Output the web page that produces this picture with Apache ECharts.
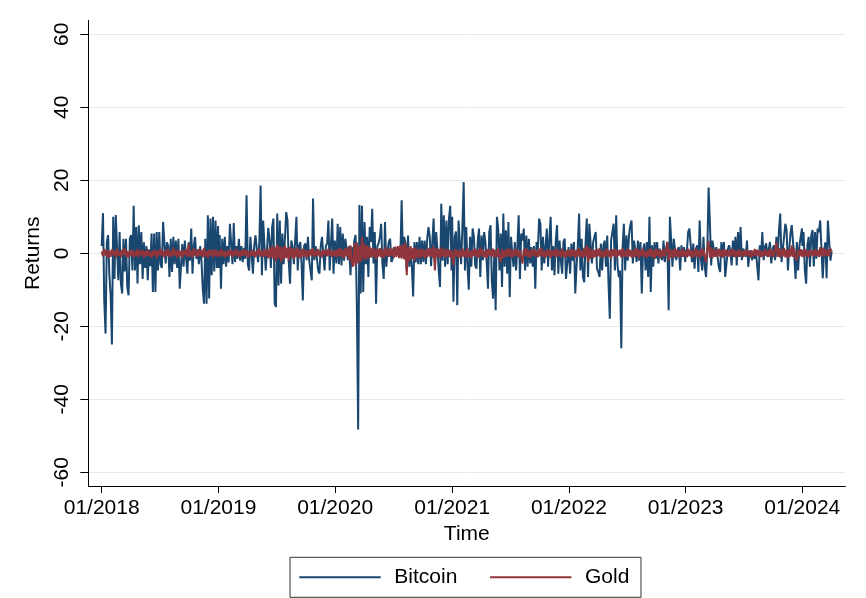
<!DOCTYPE html>
<html>
<head>
<meta charset="utf-8">
<title>Bitcoin and Gold returns</title>
<script src="https://cdn.jsdelivr.net/npm/echarts@6/dist/echarts.min.js"></script>
<style>
  html, body { margin: 0; padding: 0; background: #fff; }
  #chart { width: 866px; height: 598px; }
</style>
</head>
<body>
<div id="chart"></div>
<script>
// daily returns (%), one value every 4 days from 1 Jan of each year
const stepDays = 4

const btc2018 = [
  2, 11, -13, -22, 3, 5, -6, -11.5, -25, 10,
  -7, 10.5, 10, -7.4, 5.8, -8.3, -11, 4, -5, 4,
  -9.2, -11.5, 4, 5, -4.7, 13, -4.7, 7.2, -8.3, 7.7,
  -3, 5.8, -7, 3, -4, 2, -7.4, 1, -3.5, 5.4,
  -10.6, 5.4, -10.6, 5.8, -4.7, 5.8, -3, -4, 8.6, 8.3,
  -2.8, 3, 2, -6.5, 4, -5.1, 4.5, -3, 3.5, -4,
  4, -9.7, -3.7, 2.5, -3.7, 3.5, -1.5, -5.6, 3, -2,
  6.8, -5.6, 2.2, 4.5, -1.5, 1, -3, 2, -2, -9.7,
  -13.8, 4, -13.8, 10.4, -12.4, 9.5, -6, 10, -5, 9,
  -4, 7.5
]
const btc2019 = [
  -4, 5, -9.7, 4, -3, 4.5, -3.7, 2, -2.5, 8.1,
  8, -3, 8.3, -2.4, 2, -1.5, 4, -2, 2, -2.4,
  1.5, -1.5, 15.9, -3, -4.7, 4.5, 4.5, -5.6, 2, 4.9,
  5, -2.4, 3, 18.6, -6, 9, 9, -4.7, -5.1, 7,
  3.5, -4, 7.2, 9.5, -13.8, -14.7, 10.9, -8.8, 9, -8.3,
  5.4, -3, 4, 11.3, 9, -2.4, -8.3, 3.5, 1.7, -3,
  -2.8, 10, -4.7, 2, 3.1, -2.8, -12.9, 2, 2.7, -1.9,
  4.5, -2, -4.7, -7.4, 15, -1.9, 2, 1.7, -4.7, -5.6,
  2, 4.5, 4.5, -4.7, 2, 2.7, 9, -4.7, 2.7, 9.5,
  -5.6, 3.5
]
const btc2020 = [
  4, -2.8, 8.1, -3, 7.2, -3.3, 5.4, -2, 4, 3.5,
  -1.9, 2, -6, 1.7, -2.4, 3.5, 5, -14.5, -48.3, 13.2,
  -11, 13, -10.6, 8.6, -3, 4.5, -6.5, 7.2, 3.1, 12.2,
  -2.8, 5.8, -13.8, 2, 2.7, 4.5, 8.1, -3, -7, 8.6,
  -3.7, 0.8, 3.1, 4, -2.4, -1.5, 1.7, 0, -0.5, 0.8,
  1.3, -1, 14.5, -1, 4.5, 2.7, -4.7, 4.9, -3.7, 1,
  -3.7, -11.8, 3.1, -2.5, 3.1, -3, 4.5, -3, 3.5, -2.4,
  3.5, -3, 4, 7.2, 4.5, -3.5, 3, 9.5, -2.8, 5.8,
  1, -4.7, -9.2, 13.6, -2, 10.4, -3.7, 9, -3, 9.5,
  13, -4.7
]
const btc2021 = [
  10, -13.3, 4.5, 6, -14.2, 9, 9, -3, 7.2, 19.5,
  -4.7, 7.2, -3.3, -10, 4.5, -3.7, 6.8, 4.5, -3.3, -4.2,
  3.5, 6.8, -6.5, 4.9, -1.9, 5.8, 3.1, -2.4, -9.7, 5.8,
  7.7, -7.4, -12.4, 1, -15.6, 10, 6.8, -4.7, 5.4, -9.2,
  10.9, -3.7, 6.3, -5.6, 8.6, -12, 4.5, 0, -3.7, 3.1,
  -4.7, 2, 10.4, -7, 5.4, 3.5, 6.8, -4.7, 4.9, -3.7,
  4, -2.8, 1.7, -3.7, 2, -9.7, 3.1, 1, 9.5, 8.1,
  -4.7, 4.5, -2.8, 2, 6.8, -3.7, 4, 10, -4.7, 2,
  -6, 3.5, 7.7, -5.6, 3.5, -2, -5.6, 3.1, 4, -7,
  -6.5, 1.7
]
const btc2022 = [
  2, -5.6, 2.7, -2, 3.1, -11, -3.7, 2.2, 10.9, -4.7,
  4, -6.5, -7.9, 2.7, 9.5, -6.5, 8.1, 7.7, -2.8, 3.1,
  4.5, 5.8, -4.2, -5.1, -6.5, 2.7, -4.7, 2.2, 3.5, -3.7,
  4.9, -8.3, -17.9, 3.5, 5.8, 8.1, -4.7, 10.4, -3, -6.5,
  -4.7, -26, 1.7, 8.1, -4.7, 4.9, -2, 4.9, 7.7, 9,
  -2.8, 3.5, 3.5, -2.4, 3.5, -2, 3.1, -11, 0.8, 2.7,
  -4.7, 3.1, -6.5, 10, -10.6, 2.2, -3.7, 3.1, -1.5, 3.1,
  -2.8, 1.3, -1, -1.9, 3.5, -2.4, 1, 3.1, -15.6, 10,
  3.5, -3.7, 4, 4.5, -1.9, 1, 1.7, -4.7, 2.2, -1,
  1.7, -2.4
]
const btc2023 = [
  1, 0.4, 5.8, 6.8, 7.2, -2.4, 2.7, -4.2, 1, 2.2,
  -5.1, 9, -1.5, -4.7, 4.5, -3.7, -6.5, 1, 18, 8.6,
  -3.3, 3.5, 3.5, -1, 1.7, -1, -3.7, -5.1, 3.1, -1,
  3.1, -6.5, -6, 1, 2.2, 0.8, -3.3, 3.5, -1, 4.5,
  -3.3, 5.8, -1, 7.2, -1.9, 1.3, 0.5, -1, 3.5, -3.7,
  -0.1, 0.8, -1.9, 0.4, -1.5, 0.5, 0.8, -7.4, 2.2, -1,
  5.8, -1.9, 1.7, 2.7, -1, -1.5, 3.1, -2.8, 1, 2.2,
  -1.9, 4.5, -1, 6.3, 10.9, -2.4, 1, 4.5, 8.1, 6.3,
  -4.7, 1, 5.4, 7.7, 3.1, -1, -7, 3.1, -4.7, 2,
  4.5, 6.8
]
const btc2024 = [
  2, 5.8, -4.7, -8.3, 2.2, 4.5, -3.7, 4.9, 6.4, -3.6,
  5.8, -1.5, 6.8, 5.8, 9, 8.6, -6.8, 0.5, 3, -6.8,
  9, 8.6, -2, 0.5
]

const gold2018 = [
  0.5, -0.8, 1.2, -0.6, 0.9, -1.3, 0.7, -1.0, 1.1, -0.5,
  0.8, -1.2, 1.3, -0.7, 0.6, -1.1, 0.9, -0.4, 1.5, -0.9,
  0.6, -1.2, 0.8, -0.6, 1.0, -1.1, 0.5, -0.8, 1.2, -1.0,
  0.7, -0.5, 0.9, -1.3, 0.6, -0.7, 1.1, -0.9, 0.4, -1.2,
  0.8, -0.6, 1.0, -1.4, 0.7, -0.5, 1.3, -0.8, 0.6, -1.1,
  0.9, -0.7, 1.2, -1.0, 0.5, -0.9, 1.7, -0.6, 0.8, -1.2,
  1.0, -0.8, 0.6, -1.3, 0.9, -0.5, 1.1, -1.0, 2.6, -0.9,
  0.7, -1.2, 1.5, -0.6, 0.8, -1.0, 1.2, -0.7, 0.9, -1.1,
  1.5, -0.8, 0.6, -1.3, 1.0, -0.5, 0.9, -1.2, 1.1, -0.7,
  0.8, -1.0
]
const gold2019 = [
  0.6, -0.9, 1.1, -0.7, 0.8, -1.2, 0.5, -0.8, 1.0, -0.6,
  0.9, -1.1, 0.7, -0.5, 1.2, -0.9, 0.6, -1.0, 0.8, -0.7,
  1.1, -0.6, 0.9, -1.2, 0.5, -0.8, 1.0, -0.7, 0.6, -1.1,
  0.8, -0.5, 1.3, -0.9, 0.7, -1.0, 1.2, -0.8, 0.9, -1.4,
  1.6, -1.2, 2.0, -1.5, 1.8, -2.2, 2.5, -1.4, 1.9, -2.4,
  1.7, -1.6, 2.2, -1.3, 1.5, -2.0, 1.8, -1.2, 1.4, -1.7,
  1.2, -1.0, 1.6, -1.4, 0.9, -1.1, 1.3, -0.8, 1.0, -1.2,
  0.7, -0.9, 1.1, -0.6, 1.4, -1.0, 0.8, -0.7, 1.2, -0.9,
  0.6, -1.1, 0.9, -0.5, 1.0, -0.8, 1.3, -0.6, 0.7, -1.0,
  0.9, -0.7
]
const gold2020 = [
  0.8, -1.0, 1.2, -0.7, 1.5, -1.1, 0.9, -1.3, 1.4, -0.8,
  1.6, -1.8, 2.2, -2.5, -3.7, 2.8, -3.3, 3.0, -2.8, 2.0,
  -2.4, 4.5, -1.6, 2.5, -1.9, 2.2, -1.4, 1.8, -1.2, 1.5,
  -1.0, 1.3, -1.6, 1.2, -0.9, 1.4, -1.1, 1.0, -1.3, 1.6,
  -0.8, 1.2, -1.0, 1.5, -0.7, 1.3, -1.2, 1.8, -1.0, 2.0,
  -1.3, 2.2, -1.5, 2.4, -1.7, 3.1, -6.0, 1.8, -2.2, 2.0,
  -1.6, 1.4, -2.0, 1.6, -1.2, 1.0, -1.5, 1.3, -0.9, 1.2,
  -1.4, 1.0, -1.1, 1.5, -0.8, 1.3, -1.2, 2.0, -4.7, 1.4,
  -1.0, 1.2, -1.4, 1.6, -0.8, 1.1, -1.2, 1.3, -0.9, 1.0,
  -1.1, 0.8
]
const gold2021 = [
  0.9, -3.3, 1.2, -0.8, 1.0, -1.3, 0.7, -1.1, 1.4, -0.9,
  0.8, -1.2, 1.5, -1.0, 0.6, -1.4, 1.1, -0.7, 1.3, -1.0,
  0.9, -1.2, 1.6, -0.8, 1.0, -1.1, 0.7, -1.3, 1.2, -0.6,
  1.0, -0.9, 1.3, -1.2, 0.8, -1.0, 1.5, -0.7, -2.4, 1.1,
  -1.3, 0.9, -1.0, 1.2, -0.8, 1.4, -1.1, 0.7, -1.0, 1.3,
  -0.6, 1.0, -1.2, 0.8, -0.9, -2.8, 1.1, -0.7, 1.4, -1.0,
  0.8, -1.3, 1.0, -0.6, 1.2, -0.9, 0.7, -1.1, 1.3, -0.8,
  1.5, -1.0, 0.6, -1.2, 0.9, -0.7, 1.1, -1.3, 0.8, -0.6,
  1.0, -1.1, 1.2, -0.8, 0.7, -1.0, 1.3, -0.9, 0.6, -1.2,
  0.9, -0.7
]
const gold2022 = [
  0.8, -1.1, 1.2, -0.7, 1.0, -1.3, 0.9, -0.8, 1.4, -1.0,
  0.7, -1.2, 1.5, -0.9, 2.2, -2.4, 1.6, -1.5, 1.1, -1.3,
  0.9, -1.0, 1.2, -0.8, 1.4, -1.1, 0.6, -1.2, 1.0, -0.9,
  1.3, -1.0, 0.8, -1.4, 1.1, -0.7, 1.2, -1.3, 0.9, -0.6,
  1.0, -1.2, 1.4, -0.9, 0.7, -1.1, 1.3, -0.8, 1.0, -1.2,
  0.8, -1.0, 1.5, -0.9, 1.2, -1.4, 0.9, -0.7, 1.3, -1.1,
  0.6, -1.2, 1.0, -0.8, 1.4, -1.0, 0.9, -1.5, 1.2, -0.7,
  1.1, -1.3, 0.8, -1.0, 1.2, -0.9, 1.0, 3.1, -2.0, 1.2,
  -1.1, 0.9, -1.3, 1.4, -0.8, 1.0, -1.2, 0.7, -1.0, 1.3,
  -0.9, 0.8
]
const gold2023 = [
  0.9, -1.1, 1.3, -0.8, 1.0, -1.2, 0.7, -1.0, 1.4, -0.9,
  0.8, -1.3, 1.1, -0.7, 1.2, -1.0, -2.4, 1.5, 3.4, -1.2,
  1.6, -1.4, 1.2, -0.9, 1.0, -1.1, 1.3, -0.8, 0.9, -1.2,
  1.1, -0.7, 1.0, -0.9, 0.8, -1.0, 1.2, -0.6, 0.9, -1.1,
  0.7, -0.9, 1.1, -0.8, 0.6, -1.0, 0.9, -0.7, 1.0, -0.8,
  0.8, -1.1, 0.7, -0.9, 1.2, -0.6, 1.0, -0.8, 0.9, -1.0,
  0.6, -0.9, 1.1, -0.7, 0.8, -1.0, 1.2, -0.8, 0.9, -1.1,
  1.3, 3.1, -1.0, 1.4, -1.2, 1.0, -0.8, 1.5, -1.1, 0.9,
  -1.3, 1.2, -0.9, 2.2, -1.0, 1.3, -1.4, -2.0, 1.0, -0.8,
  1.1, -0.9
]
const gold2024 = [
  0.9, -1.0, 1.2, -0.8, 0.7, -1.1, 1.0, -0.6, 0.8, -0.9,
  1.1, -0.7, 0.9, -1.0, 1.7, -0.8, 1.5, -0.9, 1.2, -0.7,
  1.0, -0.8, 1.3, 0.5
]

const years = [2018, 2019, 2020, 2021, 2022, 2023, 2024]
const btcByYear = [btc2018, btc2019, btc2020, btc2021, btc2022, btc2023, btc2024]
const goldByYear = [gold2018, gold2019, gold2020, gold2021, gold2022, gold2023, gold2024]
const tickYears = [2018, 2019, 2020, 2021, 2022, 2023, 2024]

// x is counted in days since 1 Jan 2018
const dayMs = 24 * 3600 * 1000
const base = Date.UTC(2018, 0, 1)
const dayOf = (y) => (Date.UTC(y, 0, 1) - base) / dayMs

const toSeries = (byYear) => {
  const out = []
  byYear.forEach((vals, k) => {
    const start = dayOf(years[k])
    vals.forEach((v, i) => out.push([start + i * stepDays, v]))
  })
  return out
}

const tickValues = tickYears.map(dayOf)
const yTicks = [-60, -40, -20, 0, 20, 40, 60]

const font = '"Liberation Sans", Arial, Helvetica, sans-serif'
const gridColor = '#e3ebee'

const chart = echarts.init(document.getElementById('chart'), null, { renderer: 'canvas' })

chart.setOption({
  animation: false,
  backgroundColor: '#ffffff',
  textStyle: { fontFamily: font },
  grid: {
    left: 88.3,
    right: 20.7,
    top: 20.5,
    bottom: 112,
    containLabel: false,
  },
  legend: {
    data: ['Bitcoin', 'Gold'],
    left: 290,
    top: 557.3,
    orient: 'horizontal',
    icon: 'rect',
    borderColor: '#333',
    borderWidth: 1,
    padding: [9, 11.6, 9, 9.3],
    itemWidth: 81.4,
    itemHeight: 2,
    itemGap: 32.7,
    textStyle: {
      fontFamily: font,
      fontSize: 21,
      color: '#000',
      lineHeight: 22,
      padding: [0, 0, 0, 8.6],
    },
  },
  xAxis: {
    type: 'value',
    min: -41.9,
    max: 2325.5,
    name: 'Time',
    nameLocation: 'middle',
    nameGap: 30,
    nameTextStyle: { fontFamily: font, fontSize: 21, color: '#000' },
    axisLine: { show: true, onZero: false, lineStyle: { color: '#000', width: 1 } },
    axisTick: { show: true, length: 7, customValues: tickValues, lineStyle: { color: '#000', width: 1 } },
    axisLabel: {
      customValues: tickValues,
      margin: 12,
      fontFamily: font,
      fontSize: 21,
      color: '#000',
      formatter: (v) => {
        const d = new Date(base + v * dayMs)
        return String(d.getUTCMonth() + 1).padStart(2, '0') + '/' + d.getUTCFullYear()
      },
    },
    splitLine: { show: false },
  },
  yAxis: {
    type: 'value',
    min: -63.75,
    max: 63.78,
    name: 'Returns',
    nameLocation: 'middle',
    nameGap: 36,
    nameTextStyle: { fontFamily: font, fontSize: 21, color: '#000' },
    axisLine: { show: true, onZero: false, lineStyle: { color: '#000', width: 1 } },
    axisTick: { show: true, length: 8, customValues: yTicks, lineStyle: { color: '#000', width: 1 } },
    axisLabel: {
      customValues: yTicks,
      rotate: 90,
      margin: 16,
      fontFamily: font,
      fontSize: 21,
      color: '#000',
    },
    splitLine: { show: true, lineStyle: { color: gridColor, width: 1 } },
  },
  series: [
    {
      name: 'Bitcoin',
      type: 'line',
      data: toSeries(btcByYear),
      symbol: 'none',
      lineStyle: { color: '#1a476f', width: 2 },
      itemStyle: { color: '#1a476f' },
    },
    {
      name: 'Gold',
      type: 'line',
      data: toSeries(goldByYear),
      symbol: 'none',
      lineStyle: { color: '#90353b', width: 2 },
      itemStyle: { color: '#90353b' },
    },
  ],
})
</script>
</body>
</html>
